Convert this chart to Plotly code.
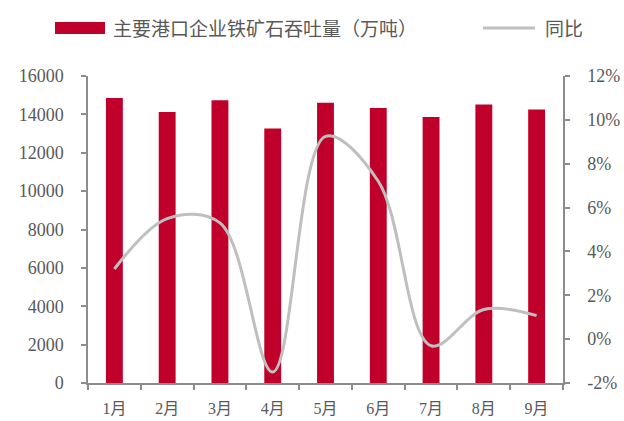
import plotly.graph_objects as go

# Monthly iron ore throughput at major ports and year-on-year change
months = ["1月", "2月", "3月", "4月", "5月", "6月", "7月", "8月", "9月"]
throughput = [14850, 14120, 14730, 13260, 14610, 14330, 13860, 14520, 14260]  # 万吨
yoy = [3.2, 5.5, 5.3, -1.5, 9.25, 7.2, -0.3, 1.35, 1.07]  # %

bar_name = "主要港口企业铁矿石吞吐量（万吨）"
line_name = "同比"

left_ticks = [0, 2000, 4000, 6000, 8000, 10000, 12000, 14000, 16000]
right_ticks = [-2, 0, 2, 4, 6, 8, 10, 12]

RED = "#C0002B"
GREY_LINE = "#BFBFBF"
AXIS = "#8C8C8C"
TEXT = "#595959"
NUM_FONT = "Liberation Serif"
CJK_FONT = "Noto Sans CJK SC"

fig = go.Figure()
fig.add_trace(go.Bar(
    x=months, y=throughput, name=bar_name,
    marker=dict(color=RED, line=dict(width=0)),
    yaxis="y", showlegend=False,
))
fig.add_trace(go.Scatter(
    x=months, y=yoy, name=line_name, mode="lines",
    line=dict(color=GREY_LINE, width=3, shape="spline", smoothing=1.0),
    yaxis="y2", showlegend=False,
))

# Legend row placed in page pixels, converted to paper coordinates
W, H = 624, 421
ML, MR, MT, MB = 88, 61, 76, 38
PW, PH = W - ML - MR, H - MT - MB


def px(x):
    return (x - ML) / PW


def py(y):
    return (H - MB - y) / PH


legend_y = 28
fig.add_shape(type="rect", xref="paper", yref="paper",
              x0=px(55), x1=px(105), y0=py(legend_y - 6), y1=py(legend_y + 6),
              fillcolor=RED, line=dict(width=0))
fig.add_shape(type="line", xref="paper", yref="paper",
              x0=px(483), x1=px(535), y0=py(legend_y), y1=py(legend_y),
              line=dict(color=GREY_LINE, width=3))
fig.add_annotation(text=bar_name, xref="paper", yref="paper",
                   x=px(111), y=py(legend_y), xanchor="left", yanchor="middle",
                   showarrow=False,
                   font=dict(family=CJK_FONT, size=19, color=TEXT))
fig.add_annotation(text=line_name, xref="paper", yref="paper",
                   x=px(543), y=py(legend_y), xanchor="left", yanchor="middle",
                   showarrow=False,
                   font=dict(family=CJK_FONT, size=19, color=TEXT))

fig.update_layout(
    width=W, height=H,
    margin=dict(l=ML, r=MR, t=MT, b=MB),
    paper_bgcolor="white", plot_bgcolor="white",
    bargap=0.68,
    showlegend=False,
    xaxis=dict(
        automargin=False,
        showline=True, linecolor=AXIS, linewidth=1.5,
        ticks="outside", ticklen=5, tickcolor=AXIS, tickwidth=1.5,
        tickson="boundaries", ticklabelstandoff=10,
        tickfont=dict(family=f"{NUM_FONT}, {CJK_FONT}", size=16, color=TEXT),
        showgrid=False, zeroline=False,
    ),
    yaxis=dict(
        automargin=False,
        range=[0, 16000], tickvals=left_ticks,
        ticktext=[str(v) for v in left_ticks],
        showline=True, linecolor=AXIS, linewidth=1.5,
        ticks="outside", ticklen=5, tickcolor=AXIS, tickwidth=1.5,
        ticklabelstandoff=14,
        tickfont=dict(family=NUM_FONT, size=18, color=TEXT),
        showgrid=False, zeroline=False,
    ),
    yaxis2=dict(
        automargin=False,
        range=[-2, 12], tickvals=right_ticks,
        ticktext=[f"{v}%" for v in right_ticks],
        overlaying="y", side="right",
        showline=True, linecolor=AXIS, linewidth=1.5,
        ticks="outside", ticklen=5, tickcolor=AXIS, tickwidth=1.5,
        ticklabelstandoff=14,
        tickfont=dict(family=NUM_FONT, size=18, color=TEXT),
        showgrid=False, zeroline=False,
    ),
)

fig.write_html("out.html")
